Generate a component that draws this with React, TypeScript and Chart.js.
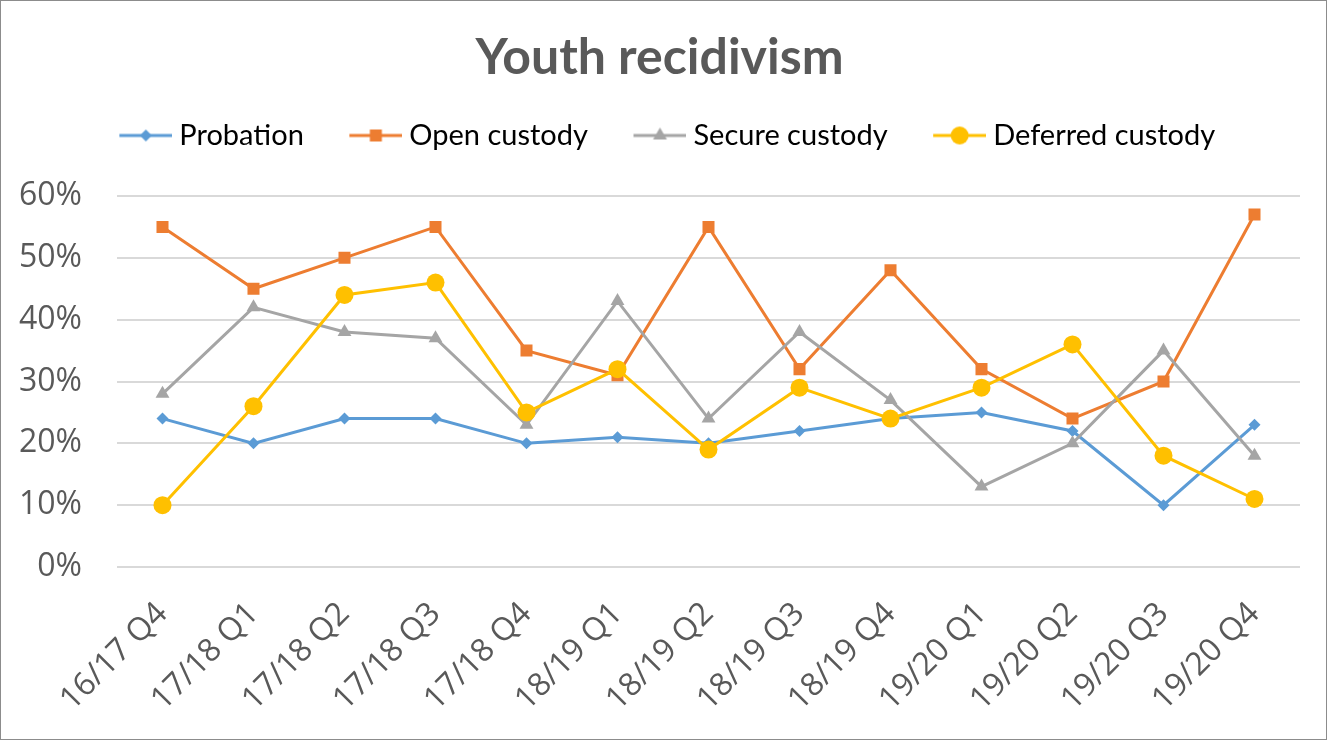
import { useEffect, useRef } from 'react';
import { Chart, registerables } from 'chart.js';
Chart.register(...registerables);

const categories = [
  '16/17 Q4', '17/18 Q1', '17/18 Q2', '17/18 Q3', '17/18 Q4', '18/19 Q1', '18/19 Q2',
  '18/19 Q3', '18/19 Q4', '19/20 Q1', '19/20 Q2', '19/20 Q3', '19/20 Q4',
];
const probation = [24, 20, 24, 24, 20, 21, 20, 22, 24, 25, 22, 10, 23];
const openCustody = [55, 45, 50, 55, 35, 31, 55, 32, 48, 32, 24, 30, 57];
const secureCustody = [28, 42, 38, 37, 23, 43, 24, 38, 27, 13, 20, 35, 18];
const deferredCustody = [10, 26, 44, 46, 25, 32, 19, 29, 24, 29, 36, 18, 11];
const seriesNames = ['Probation', 'Open custody', 'Secure custody', 'Deferred custody'];
const yMax = 60;
const yStep = 10;

const colors = ['#5B9BD5', '#ED7D31', '#A5A5A5', '#FFC000'];
const styles = ['rectRot', 'rect', 'triangle', 'circle'];
const radii = [6, 8.5, 8, 9];

const LEG_MARGIN = 23;
const LEG_LINE = 53;

function makeLegendImage(color: string, style: string, r: number) {
  const c = document.createElement('canvas');
  c.width = LEG_MARGIN + LEG_LINE;
  c.height = 24;
  const ctx = c.getContext('2d')!;
  const cy = 12;
  const cx = LEG_MARGIN + LEG_LINE / 2;
  ctx.strokeStyle = color;
  ctx.lineWidth = 3;
  ctx.beginPath();
  ctx.moveTo(LEG_MARGIN, cy);
  ctx.lineTo(LEG_MARGIN + LEG_LINE, cy);
  ctx.stroke();
  ctx.fillStyle = color;
  ctx.beginPath();
  if (style === 'rectRot') {
    ctx.moveTo(cx, cy - r); ctx.lineTo(cx + r, cy); ctx.lineTo(cx, cy + r); ctx.lineTo(cx - r, cy);
  } else if (style === 'rect') {
    const s = r * Math.SQRT1_2;
    ctx.rect(cx - s, cy - s, 2 * s, 2 * s);
  } else if (style === 'triangle') {
    ctx.moveTo(cx, cy - r); ctx.lineTo(cx + r * 0.866, cy + r * 0.5); ctx.lineTo(cx - r * 0.866, cy + r * 0.5);
  } else {
    ctx.arc(cx, cy, r, 0, Math.PI * 2);
  }
  ctx.closePath();
  ctx.fill();
  return c;
}

export default function App() {
  const ref = useRef<HTMLCanvasElement>(null);
  useEffect(() => {
    document.body.style.margin = '0';
    const values = [probation, openCustody, secureCustody, deferredCustody];
    const images = colors.map((c, i) => makeLegendImage(c, styles[i], radii[i]));
    const chart = new Chart(ref.current!, {
      type: 'line',
      data: {
        labels: categories,
        datasets: values.map((v, i) => ({
          label: seriesNames[i],
          data: v,
          borderColor: colors[i],
          backgroundColor: colors[i],
          borderWidth: 3,
          pointStyle: styles[i] as any,
          pointRadius: radii[i],
          pointBorderWidth: 0,
          pointHoverRadius: radii[i],
          tension: 0,
          order: 4 - i,
        })),
      },
      options: {
        animation: false,
        responsive: true,
        maintainAspectRatio: false,
        layout: { padding: { top: 10, left: 18, right: 26, bottom: 0 } },
        plugins: {
          title: {
            display: true,
            text: 'Youth recidivism',
            color: '#595959',
            font: { family: 'Lato', size: 50, weight: 'bold' },
            padding: { top: 17, bottom: 3 },
          },
          legend: {
            display: true,
            position: 'top',
            labels: {
              usePointStyle: true,
              pointStyleWidth: 61,
              color: '#1a1a1a',
              font: { family: 'Lato', size: 29 },
              padding: 30,
              generateLabels: () =>
                seriesNames.map((n, i) => ({
                  text: n,
                  pointStyle: images[i] as any,
                  fillStyle: colors[i],
                  strokeStyle: colors[i],
                  lineWidth: 0,
                  datasetIndex: i,
                  hidden: false,
                })),
            },
          },
          tooltip: { enabled: false },
        },
        scales: {
          x: {
            offset: true,
            grid: { display: false },
            border: { display: false },
            afterFit: (scale: any) => {
              scale.paddingLeft = 0;
              scale.paddingRight = 0;
              scale.height = 172;
            },
            ticks: {
              color: '#595959',
              font: { family: 'Open Sans', size: 32 },
              maxRotation: 45,
              minRotation: 45,
              padding: 20,
              autoSkip: false,
            },
          },
          xTopSpace: {
            type: 'category',
            position: 'top',
            display: true,
            grid: { display: false },
            border: { display: false },
            ticks: { display: false },
            afterFit: (scale: any) => {
              scale.height = 36;
            },
          },
          y: {
            min: 0,
            max: yMax,
            grid: { color: '#d9d9d9', lineWidth: 2, drawTicks: false },
            border: { display: false },
            afterFit: (scale: any) => {
              scale.width = 98;
            },
            ticks: {
              stepSize: yStep,
              color: '#595959',
              font: { family: 'Open Sans', size: 32 },
              padding: 35,
              callback: (v: any) => v + '%',
            },
          },
        },
      },
    });
    document.fonts?.ready.then(() => chart.update());
    return () => chart.destroy();
  }, []);
  return (
    <div
      style={{
        position: 'absolute', left: 0, top: 0, width: 1327, height: 740,
        boxSizing: 'border-box', border: '1px solid #8c8c8c', background: '#fff',
      }}
    >
      <div style={{ position: 'relative', width: '100%', height: '100%' }}>
        <canvas ref={ref} />
      </div>
    </div>
  );
}
